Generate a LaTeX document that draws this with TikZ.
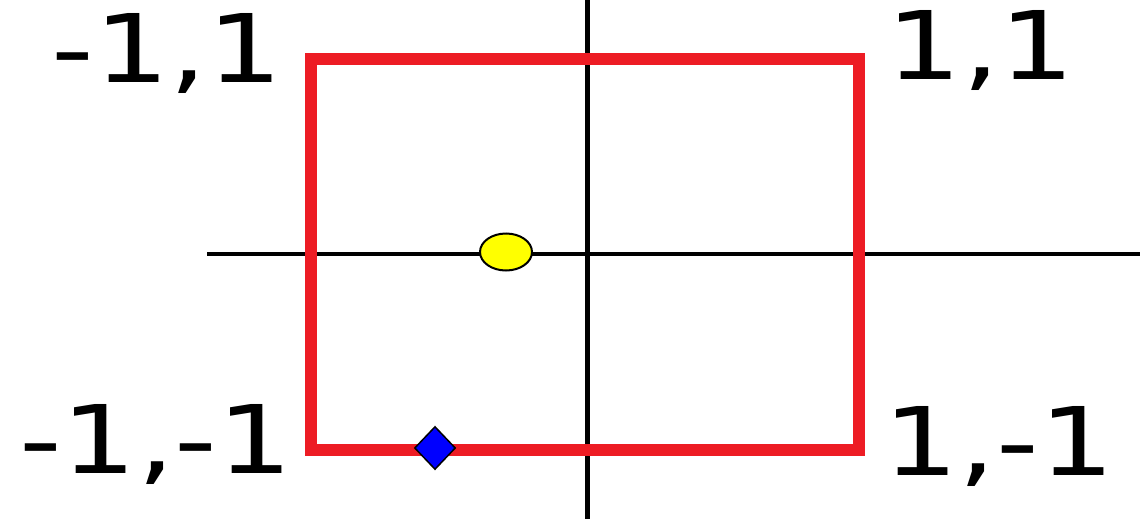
\documentclass[tikz,border=0pt]{standalone}
\usepackage{fontspec}
\setmainfont{DejaVu Sans}
\usetikzlibrary{shapes.geometric}
\definecolor{paintred}{HTML}{ED1C24}
\definecolor{paintyellow}{HTML}{FFFF00}
\definecolor{paintblue}{HTML}{0000FF}
\begin{document}
\begin{tikzpicture}[x=1pt,y=-1pt,
  axisline/.style={draw=black,line width=4.5pt},
  boxline/.style={draw=paintred,line width=12pt},
  corner/.style={anchor=base,inner sep=0pt,font=\fontsize{94.7pt}{100pt}\selectfont},
  dot/.style={ellipse,draw=black,line width=2pt,fill=paintyellow,minimum width=52pt,minimum height=37pt,inner sep=0pt},
  marker/.style={diamond,draw=black,line width=1.5pt,fill=paintblue,minimum width=41pt,minimum height=43pt,inner sep=0pt}]
\useasboundingbox (0,0) rectangle (1140,519);
% axes
\coordinate (vtop) at (587.5,0);
\coordinate (vbot) at (587.5,519);
\coordinate (hleft) at (207,254);
\coordinate (hright) at (1140,254);
\draw[axisline] (vtop) -- (vbot);
\draw[axisline] (hleft) -- (hright);
% square
\coordinate (tl) at (310.5,59.5);
\coordinate (br) at (858.5,450);
\draw[boxline] (tl) rectangle (br);
% markers
\node[dot] (yellowdot) at (506,252) {};
\node[marker] (bluediamond) at (435,448) {};
% labels
\node[corner] (ltl) at (167,82) {\scalebox{1.25}[1]{-1,1}};
\node[corner] (ltr) at (981,79) {\scalebox{1.25}[1]{1,1}};
\node[corner] (lbl) at (156,473) {\scalebox{1.25}[1]{-1,-1}};
\node[corner] (lbr) at (999,475) {\scalebox{1.25}[1]{1,-1}};
\end{tikzpicture}
\end{document}
